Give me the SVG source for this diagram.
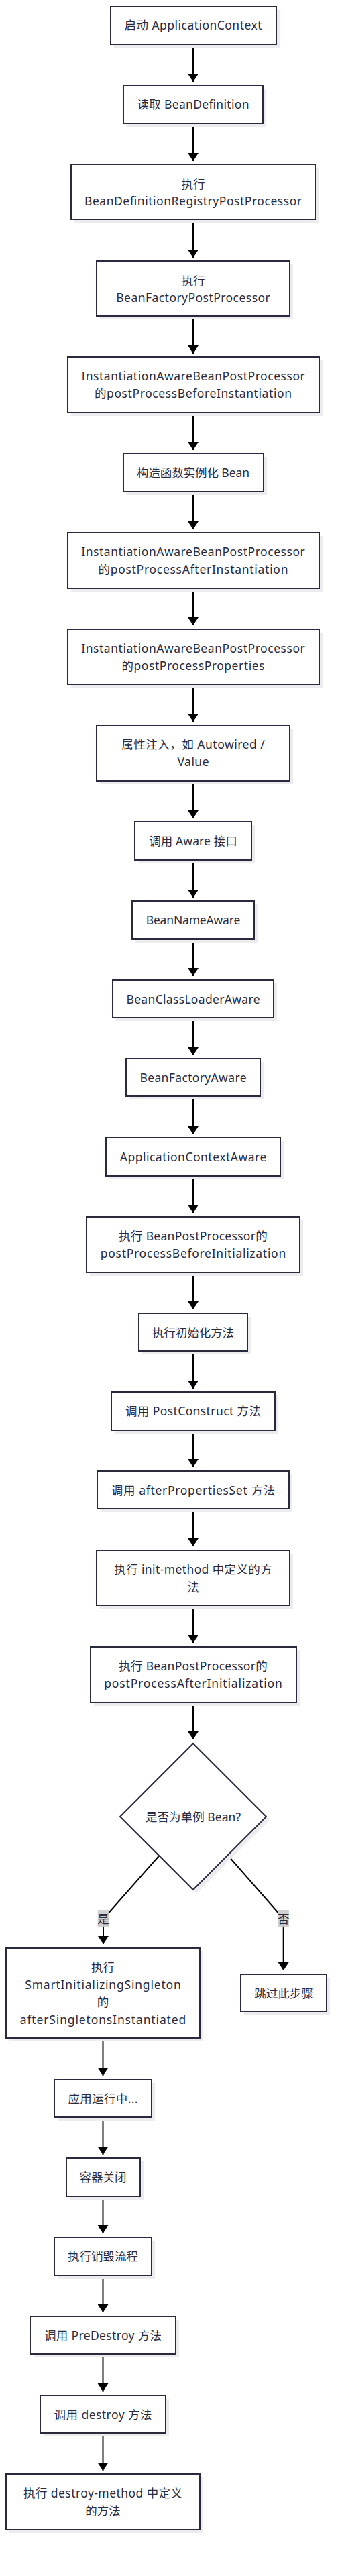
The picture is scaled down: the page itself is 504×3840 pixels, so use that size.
<svg xmlns="http://www.w3.org/2000/svg" width="504" height="3840" viewBox="0 0 504 3840">
<defs>
<style>
.bx{fill:#ffffff;stroke:#2a2a3d;stroke-width:2}
.sh{fill:#ececef}
.t{font-family:"Noto Sans","Noto Sans CJK SC",sans-serif;font-size:17.5px;fill:#2b2b40;text-anchor:middle;dominant-baseline:central}
.e{fill:none;stroke:#000;stroke-width:2;marker-end:url(#ah)}
.lb{fill:#cccccc;fill-opacity:0.9}
</style>
<marker id="ah" markerUnits="userSpaceOnUse" markerWidth="12" markerHeight="16" viewBox="0 0 12 16" refX="12" refY="8" orient="auto">
<path d="M0,0 L12,8 L0,16 z" fill="#000"/>
</marker>
</defs>
<rect width="504" height="3840" fill="#ffffff"/>
<g id="connectors">
<path class="e" d="M288,66 V122"/>
<path class="e" d="M288,184 V240"/>
<path class="e" d="M288,327 V384"/>
<path class="e" d="M288,471 V527"/>
<path class="e" d="M288,615 V671"/>
<path class="e" d="M288,733 V789"/>
<path class="e" d="M288,877 V932"/>
<path class="e" d="M288,1020 V1076"/>
<path class="e" d="M288,1164 V1220"/>
<path class="e" d="M288,1282 V1338"/>
<path class="e" d="M288,1400 V1455"/>
<path class="e" d="M288,1517 V1573"/>
<path class="e" d="M288,1634 V1691"/>
<path class="e" d="M288,1753 V1808"/>
<path class="e" d="M288,1897 V1952"/>
<path class="e" d="M288,2014 V2070"/>
<path class="e" d="M288,2132 V2187"/>
<path class="e" d="M288,2249 V2305"/>
<path class="e" d="M288,2393 V2449"/>
<path class="e" d="M288,2538 V2593"/>
<path class="e" d="M237.5,2766 L165,2848 Q154,2860 154,2872 L154,2898"/>
<path class="e" d="M340,2766 L412,2848 Q422.7,2860 422.7,2872 L422.7,2937"/>
<path class="e" d="M153.5,3038 V3094"/>
<path class="e" d="M153.5,3156 V3212"/>
<path class="e" d="M153.5,3274 V3329"/>
<path class="e" d="M153.5,3392 V3447"/>
<path class="e" d="M153.5,3509 V3565"/>
<path class="e" d="M153.5,3627 V3683"/>
<g id="edge-labels">
<rect class="lb" x="145.7" y="2847" width="16.6" height="26"/>
<text class="t" x="154" y="2860">是</text>
<rect class="lb" x="414.3" y="2847" width="16.6" height="26"/>
<text class="t" x="422.7" y="2860">否</text>
</g>
</g>
<g id="n1"><rect class="sh" x="170" y="15" width="247" height="56"/><rect class="bx" x="165" y="10" width="247" height="56"/><text class="t" x="288" y="37" textLength="205" lengthAdjust="spacing">启动 ApplicationContext</text></g>
<g id="n2"><rect class="sh" x="189" y="132" width="208" height="57"/><rect class="bx" x="184" y="127" width="208" height="57"/><text class="t" x="288" y="155" textLength="167" lengthAdjust="spacing">读取 BeanDefinition</text></g>
<g id="n3"><rect class="sh" x="111" y="250" width="364" height="82"/><rect class="bx" x="106" y="245" width="364" height="82"/><text class="t" x="288" y="273.5">执行</text><text class="t" x="288" y="298.5" textLength="324" lengthAdjust="spacing">BeanDefinitionRegistryPostProcessor</text></g>
<g id="n4"><rect class="sh" x="149" y="394" width="288" height="82"/><rect class="bx" x="144" y="389" width="288" height="82"/><text class="t" x="288" y="417.5">执行</text><text class="t" x="288" y="442.5" textLength="229.5" lengthAdjust="spacing">BeanFactoryPostProcessor</text></g>
<g id="n5"><rect class="sh" x="106" y="537" width="375" height="83"/><rect class="bx" x="101" y="532" width="375" height="83"/><text class="t" x="288" y="560" textLength="333.5" lengthAdjust="spacing">InstantiationAwareBeanPostProcessor</text><text class="t" x="288" y="586" textLength="294" lengthAdjust="spacing">的postProcessBeforeInstantiation</text></g>
<g id="n6"><rect class="sh" x="189" y="681" width="209" height="57"/><rect class="bx" x="184" y="676" width="209" height="57"/><text class="t" x="288" y="704" textLength="168" lengthAdjust="spacing">构造函数实例化 Bean</text></g>
<g id="n7"><rect class="sh" x="106" y="799" width="375" height="83"/><rect class="bx" x="101" y="794" width="375" height="83"/><text class="t" x="288" y="822" textLength="333.5" lengthAdjust="spacing">InstantiationAwareBeanPostProcessor</text><text class="t" x="288" y="848" textLength="283" lengthAdjust="spacing">的postProcessAfterInstantiation</text></g>
<g id="n8"><rect class="sh" x="106" y="943" width="375" height="82"/><rect class="bx" x="101" y="938" width="375" height="82"/><text class="t" x="288" y="966" textLength="333.5" lengthAdjust="spacing">InstantiationAwareBeanPostProcessor</text><text class="t" x="288" y="992" textLength="213" lengthAdjust="spacing">的postProcessProperties</text></g>
<g id="n9"><rect class="sh" x="149" y="1086" width="288" height="83"/><rect class="bx" x="144" y="1081" width="288" height="83"/><text class="t" x="288" y="1109" textLength="213.5" lengthAdjust="spacing">属性注入，如 Autowired /</text><text class="t" x="288" y="1135" textLength="47" lengthAdjust="spacing">Value</text></g>
<g id="n10"><rect class="sh" x="206" y="1230" width="174" height="57"/><rect class="bx" x="201" y="1225" width="174" height="57"/><text class="t" x="288" y="1253" textLength="131.5" lengthAdjust="spacing">调用 Aware 接口</text></g>
<g id="n11"><rect class="sh" x="202" y="1348" width="182" height="57"/><rect class="bx" x="197" y="1343" width="182" height="57"/><text class="t" x="288" y="1371" textLength="140.5" lengthAdjust="spacing">BeanNameAware</text></g>
<g id="n12"><rect class="sh" x="173" y="1466" width="240" height="56"/><rect class="bx" x="168" y="1461" width="240" height="56"/><text class="t" x="288" y="1489" textLength="199" lengthAdjust="spacing">BeanClassLoaderAware</text></g>
<g id="n13"><rect class="sh" x="193" y="1583" width="200" height="56"/><rect class="bx" x="188" y="1578" width="200" height="56"/><text class="t" x="288" y="1606" textLength="159" lengthAdjust="spacing">BeanFactoryAware</text></g>
<g id="n14"><rect class="sh" x="163" y="1701" width="260" height="57"/><rect class="bx" x="158" y="1696" width="260" height="57"/><text class="t" x="288" y="1724" textLength="218.5" lengthAdjust="spacing">ApplicationContextAware</text></g>
<g id="n15"><rect class="sh" x="134" y="1819" width="318" height="83"/><rect class="bx" x="129" y="1814" width="318" height="83"/><text class="t" x="288" y="1842" textLength="221.5" lengthAdjust="spacing">执行 BeanPostProcessor的</text><text class="t" x="288" y="1868" textLength="276.5" lengthAdjust="spacing">postProcessBeforeInitialization</text></g>
<g id="n16"><rect class="sh" x="212" y="1963" width="162" height="56"/><rect class="bx" x="207" y="1958" width="162" height="56"/><text class="t" x="288" y="1986">执行初始化方法</text></g>
<g id="n17"><rect class="sh" x="171" y="2080" width="244" height="57"/><rect class="bx" x="166" y="2075" width="244" height="57"/><text class="t" x="288" y="2103" textLength="202" lengthAdjust="spacing">调用 PostConstruct 方法</text></g>
<g id="n18"><rect class="sh" x="150" y="2198" width="286" height="56"/><rect class="bx" x="145" y="2193" width="286" height="56"/><text class="t" x="288" y="2221" textLength="244.5" lengthAdjust="spacing">调用 afterPropertiesSet 方法</text></g>
<g id="n19"><rect class="sh" x="149" y="2316" width="288" height="82"/><rect class="bx" x="144" y="2311" width="288" height="82"/><text class="t" x="288" y="2339" textLength="235.5" lengthAdjust="spacing">执行 init-method 中定义的方</text><text class="t" x="288" y="2365">法</text></g>
<g id="n20"><rect class="sh" x="140" y="2460" width="307" height="83"/><rect class="bx" x="135" y="2455" width="307" height="83"/><text class="t" x="288" y="2483" textLength="221.5" lengthAdjust="spacing">执行 BeanPostProcessor的</text><text class="t" x="288" y="2509" textLength="265.5" lengthAdjust="spacing">postProcessAfterInitialization</text></g>
<g id="n21"><path class="sh" d="M293,2604 L402,2713 L293,2822 L184,2713 z"/><path class="bx" d="M288,2599 L397,2708 L288,2817 L179,2708 z"/><text class="t" x="288" y="2708" textLength="142" lengthAdjust="spacing">是否为单例 Bean?</text></g>
<g id="n22"><rect class="sh" x="14" y="2909" width="289" height="134"/><rect class="bx" x="9" y="2904" width="289" height="134"/><text class="t" x="153.5" y="2932">执行</text><text class="t" x="153.5" y="2958" textLength="232.5" lengthAdjust="spacing">SmartInitializingSingleton</text><text class="t" x="153.5" y="2984">的</text><text class="t" x="153.5" y="3010" textLength="247.5" lengthAdjust="spacing">afterSingletonsInstantiated</text></g>
<g id="n23"><rect class="sh" x="364" y="2948" width="128" height="56"/><rect class="bx" x="359" y="2943" width="128" height="56"/><text class="t" x="423" y="2971">跳过此步骤</text></g>
<g id="n24"><rect class="sh" x="86" y="3105" width="145" height="56"/><rect class="bx" x="81" y="3100" width="145" height="56"/><text class="t" x="153.5" y="3128" textLength="104" lengthAdjust="spacing">应用运行中...</text></g>
<g id="n25"><rect class="sh" x="104" y="3222" width="110" height="57"/><rect class="bx" x="99" y="3217" width="110" height="57"/><text class="t" x="153.5" y="3245">容器关闭</text></g>
<g id="n26"><rect class="sh" x="86" y="3340" width="145" height="57"/><rect class="bx" x="81" y="3335" width="145" height="57"/><text class="t" x="153.5" y="3363">执行销毁流程</text></g>
<g id="n27"><rect class="sh" x="50" y="3458" width="217" height="56"/><rect class="bx" x="45" y="3453" width="217" height="56"/><text class="t" x="153.5" y="3481" textLength="175" lengthAdjust="spacing">调用 PreDestroy 方法</text></g>
<g id="n28"><rect class="sh" x="65" y="3576" width="187" height="56"/><rect class="bx" x="60" y="3571" width="187" height="56"/><text class="t" x="153.5" y="3599" textLength="146" lengthAdjust="spacing">调用 destroy 方法</text></g>
<g id="n29"><rect class="sh" x="14" y="3693" width="289" height="83"/><rect class="bx" x="9" y="3688" width="289" height="83"/><text class="t" x="153.5" y="3716" textLength="237" lengthAdjust="spacing">执行 destroy-method 中定义</text><text class="t" x="153.5" y="3742">的方法</text></g>
</svg>
